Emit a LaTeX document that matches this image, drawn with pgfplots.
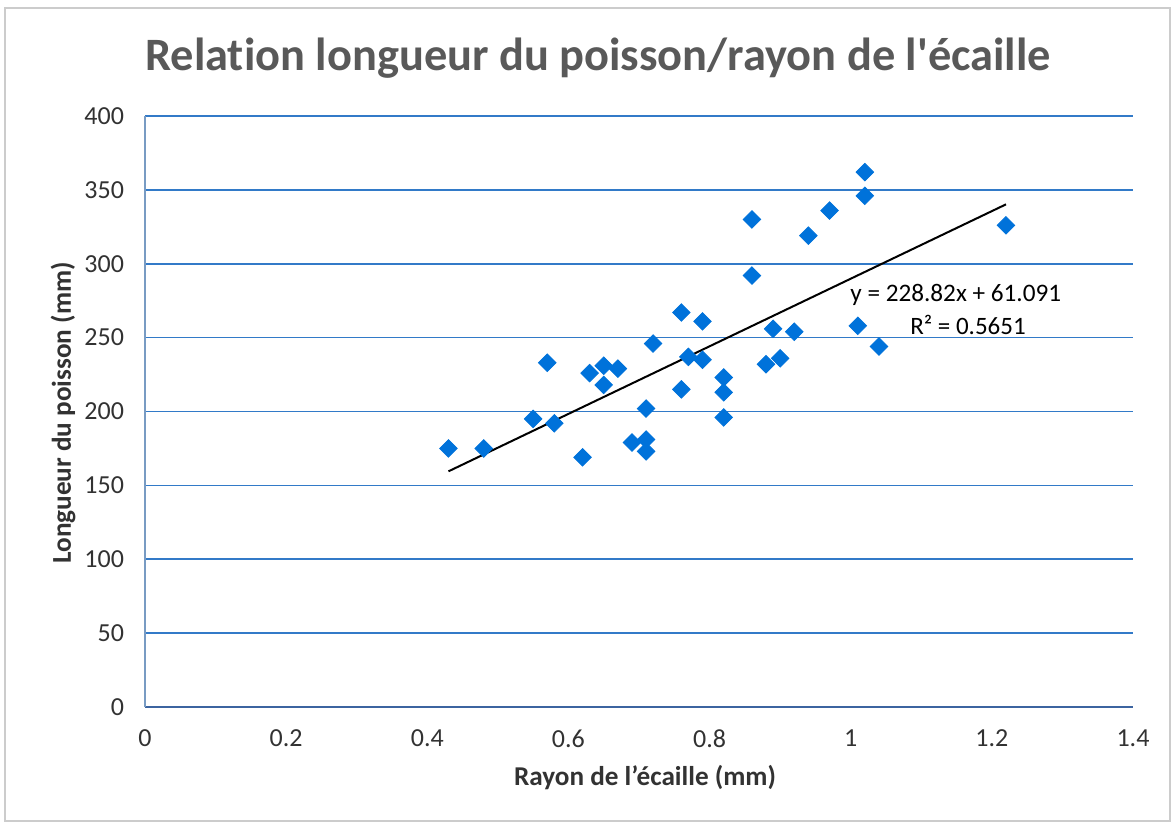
\documentclass[border=0pt]{standalone}
\usepackage{pgfplots}
\pgfplotsset{compat=1.18}
\usepackage{fontspec}
\setmainfont{Carlito}[Ligatures={TeX,NoCommon}]
\newfontfamily\plainfont{Carlito}[Ligatures={TeXOff,NoCommon}]
\definecolor{mk}{RGB}{0,114,218}
\definecolor{gridc}{RGB}{50,122,200}
\definecolor{ttl}{RGB}{89,89,89}
\definecolor{tick}{RGB}{50,50,50}
\definecolor{xax}{RGB}{60,100,160}
\definecolor{yax}{RGB}{120,155,195}
\begin{document}
\begin{tikzpicture}[x=1pt,y=1pt]
\useasboundingbox (-72.5,-59) rectangle (515.5,353.5);
\draw[gray!40, line width=0.8pt] (-70,-57) rectangle (512.5,349.5);
\begin{axis}[
  at={(0,0)}, anchor=south west,
  scale only axis, width=494pt, height=295.5pt,
  xmin=0, xmax=1.4, ymin=0, ymax=400,
  xtick={0,0.2,0.4,0.6,0.8,1,1.2,1.4},
  xticklabels={0,0.2,0.4,0.6,0.8,1,1.2,1.4},
  ytick={0,50,100,150,200,250,300,350,400},
  tick style={draw=none},
  ymajorgrids, grid style={draw=gridc, line width=0.8pt},
  axis x line*=bottom, axis y line*=left,
  x axis line style={xax, line width=1pt, -},
  y axis line style={yax, line width=0.7pt, -},
  /pgf/number format/assume math mode=true,
  ticklabel style={font=\fontsize{13}{15}\selectfont, text=tick},
  xticklabel style={yshift=-8pt},
  yticklabel style={xshift=-7pt},
  clip=false,
]
\addplot[only marks, mark=square*, mark size=3.1pt, mark options={rotate=45, fill=mk, draw=mk}] coordinates {
(0.43,175) (0.48,175) (0.55,195) (0.57,233) (0.58,192) (0.62,169)
(0.63,226) (0.65,218) (0.65,231) (0.67,229) (0.69,179) (0.71,202)
(0.71,181) (0.71,173) (0.72,246) (0.76,267) (0.76,215) (0.77,237)
(0.79,235) (0.79,261) (0.82,223) (0.82,213) (0.82,196) (0.86,330)
(0.86,292) (0.88,232) (0.89,256) (0.90,236) (0.92,254) (0.94,319)
(0.97,336) (1.01,258) (1.02,362) (1.02,346) (1.04,244) (1.22,326)
};
\addplot[black, line width=1pt] coordinates {(0.43,159.5) (1.22,340.2)};
\node[anchor=east, font=\fontsize{12.6}{15}\selectfont, text=black] at (axis cs:1.3081,278.8) {y = 228.82x + 61.091};
\node[anchor=east, font=\fontsize{12.5}{15}\selectfont, text=black] at (axis cs:1.258,258.5) {R² = 0.5651};
\end{axis}
\node[font=\plainfont\fontsize{23.2}{27}\bfseries, text=ttl] at (226.5,324.5) {Relation longueur du poisson/rayon de l'écaille};
\node[font=\fontsize{13.6}{16}\bfseries, text=tick, rotate=90] at (-41,147) {Longueur du poisson (mm)};
\node[font=\fontsize{13.6}{16}\bfseries, text=tick] at (250,-35.5) {Rayon de l'écaille (mm)};
\end{tikzpicture}
\end{document}
